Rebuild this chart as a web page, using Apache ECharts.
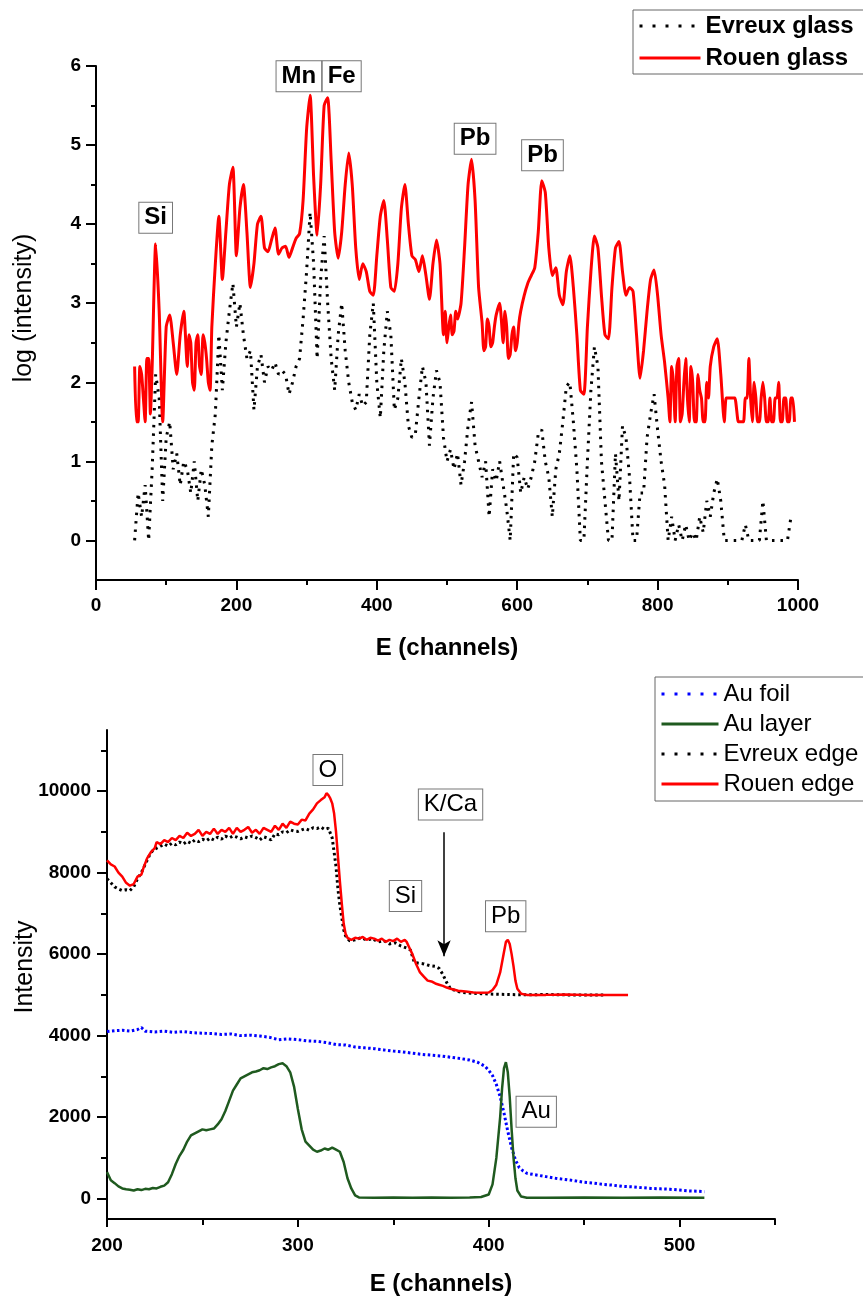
<!DOCTYPE html>
<html>
<head>
<meta charset="utf-8">
<script src="https://cdn.jsdelivr.net/npm/echarts@6/dist/echarts.min.js"></script>
<style>
  html, body { margin: 0; padding: 0; background: #fff; }
  #chart { width: 863px; height: 1297px; }
</style>
</head>
<body>
<div id="chart"></div>
<script>
// ---- top panel: log(intensity) spectra, channels 55..995 step 5
const glassE = [];
for (let e = 55; e <= 995; e += 5) glassE.push(e);

const rouenGlass = [
  2.2, 1.5, 2.1, 1.5, 2.3, 2.2, 3.75, 2.9, 1.5, 2.7,
  2.85, 2.5, 2.1, 2.6, 2.9, 2.2, 2.5, 1.9, 2.6, 2.1,
  2.5, 2.0, 2.7, 3.5, 4.1, 3.3, 3.9, 4.5, 4.72, 3.6,
  4.2, 4.5, 3.9, 3.2, 3.5, 4.0, 4.1, 3.7, 3.65, 3.8,
  3.95, 3.62, 3.7, 3.72, 3.58, 3.7, 3.82, 3.88, 4.3, 5.2,
  5.63, 4.6, 3.86, 4.5, 5.5, 5.6, 4.8, 3.9, 3.57, 3.9,
  4.5, 4.9, 4.5, 3.7, 3.3, 3.5, 3.4, 3.15, 3.1, 3.6,
  4.1, 4.3, 3.8, 3.2, 3.15, 3.5, 4.2, 4.5, 4.0, 3.6,
  3.55, 3.4, 3.6, 3.35, 3.05, 3.5, 3.8, 3.5, 2.6, 2.5,
  2.85, 2.65, 2.8, 3.0, 3.7, 4.5, 4.82, 4.3, 3.2, 2.75,
  2.45, 2.7, 2.5, 2.85, 3.0, 2.5, 2.7, 2.35, 2.7, 2.5,
  2.9, 3.1, 3.25, 3.35, 3.45, 3.9, 4.55, 4.4, 3.7, 3.35,
  3.45, 3.1, 2.98, 3.4, 3.6, 3.2, 2.6, 1.9, 1.85, 2.7,
  3.4, 3.85, 3.7, 3.1, 2.6, 2.55, 3.2, 3.7, 3.78, 3.4,
  3.1, 3.2, 3.15, 2.6, 2.05, 2.4, 2.9, 3.3, 3.42, 3.1,
  2.6, 2.25, 1.8, 2.2, 1.5, 2.3, 1.6, 2.3, 1.5, 2.0,
  1.5, 1.9, 1.5, 2.0, 2.2, 2.45, 2.55, 2.1, 1.5, 1.8,
  1.8, 1.8, 1.5, 1.5, 1.8, 2.3, 1.5, 1.8, 1.5, 2.0,
  1.5, 1.8, 1.5, 1.8, 1.5, 1.8, 1.5, 1.8, 1.5
];

// extra readings in the noisy stretches of the Rouen spectrum (half-step channels)
const rouenNoiseE = [57.5, 62.5, 67.5, 72.5, 77.5,
  132.5, 137.5, 142.5, 147.5, 152.5, 157.5, 162.5,
  497.5, 502.5, 507.5, 512.5,
  552.5, 557.5, 562.5, 567.5, 582.5, 587.5, 592.5, 597.5, 602.5,
  817.5, 822.5, 827.5, 832.5, 837.5, 842.5, 847.5, 852.5, 857.5, 862.5, 867.5, 872.5,
  897.5, 917.5, 922.5, 927.5, 932.5, 937.5, 942.5, 947.5, 952.5, 957.5, 962.5,
  967.5, 972.5, 977.5, 982.5, 987.5, 992.5];
const rouenNoise = [1.5, 2.2, 1.8, 2.3, 1.6,
  2.6, 2.0, 2.5, 2.2, 2.6, 2.3, 1.9,
  2.9, 2.7, 2.6, 2.9,
  2.4, 2.8, 2.45, 2.7, 2.9, 2.3, 2.6, 2.4, 2.75,
  1.5, 2.0, 2.2, 1.5, 2.0, 1.8, 2.2, 1.5, 2.1, 1.8, 1.5, 1.8,
  1.8, 1.5, 1.5, 1.8, 1.8, 2.0, 1.5, 1.8, 1.8, 1.5, 1.5,
  1.8, 2.0, 1.5, 1.8, 1.5, 1.8];

const evreuxGlass = [
  0.0, 0.6, 0.3, 0.7, 0.0, 0.9, 2.1, 1.8, 0.5, 1.3,
  1.5, 0.9, 1.1, 0.7, 1.0, 0.9, 0.6, 1.0, 0.5, 0.9,
  0.7, 0.3, 1.2, 1.6, 2.6, 1.9, 2.5, 2.9, 3.25, 2.7,
  3.0, 2.6, 2.3, 2.4, 1.65, 2.2, 2.35, 2.0, 2.2, 2.15,
  2.25, 2.1, 2.15, 2.1, 1.85, 2.0, 2.2, 2.3, 2.8, 3.4,
  4.15, 3.5, 2.3, 3.3, 3.85, 3.0, 2.3, 1.9, 2.6, 3.0,
  2.4, 2.0, 1.75, 1.65, 1.85, 1.7, 1.75, 2.6, 3.0, 2.0,
  1.55, 2.4, 2.9, 2.6, 1.65, 1.8, 2.3, 2.0, 1.45, 1.3,
  1.35, 1.8, 2.2, 2.0, 1.2, 1.8, 2.15, 2.0, 1.3, 1.0,
  1.15, 0.9, 1.1, 0.7, 1.0, 1.45, 1.75, 1.2, 1.0, 0.8,
  1.0, 0.3, 0.9, 0.75, 1.0, 0.7, 0.4, 0.0, 1.1, 1.05,
  0.6, 0.8, 0.65, 0.8, 1.0, 1.35, 1.4, 1.0, 0.8, 0.3,
  0.9, 1.1, 1.5, 1.95, 2.0, 1.5, 0.9, 0.0, 0.0, 1.0,
  1.9, 2.45, 2.2, 1.0, 0.5, 0.0, 0.0, 1.1, 0.5, 1.45,
  1.3, 0.8, 0.0, 0.0, 0.6, 0.6, 1.3, 1.6, 1.85, 1.4,
  1.0, 0.7, 0.0, 0.3, 0.0, 0.2, 0.0, 0.2, 0.0, 0.1,
  0.0, 0.3, 0.1, 0.5, 0.3, 0.6, 0.78, 0.5, 0.0, 0.0,
  0.0, 0.0, 0.0, 0.0, 0.2, 0.0, 0.0, 0.0, 0.0, 0.5,
  0.0, 0.0, 0.0, 0.0, 0.0, 0.0, 0.0, 0.3
];

// ---- bottom panel: intensity spectra
const rouenEdgeE = [200,202,204,206,208,210,212,214,216,218,219,221,223,225,226,228,230,232,234,236,238,240,242,244,246,248,250,252,254,256,258,260,262,264,266,268,270,272,274,276,278,280,282,284,286,288,290,292,294,296,298,300,302,304,306,308,310,312,314,315,316,317,318,319,320,321,322,323,324,325,326,328,330,332,334,336,338,340,342,344,346,348,350,352,354,356,357,358,360,362,364,366,368,370,372,374,376,378,380,384,388,392,396,400,402,404,406,408,409,410,411,412,413,414,415,417,420,430,440,450,460,473];
const rouenEdge = [8300,8200,8150,8000,7900,7750,7680,7720,7900,7950,8100,8350,8500,8600,8750,8700,8800,8750,8850,8800,8900,8850,8980,8900,8950,9050,8900,9000,8950,9080,8950,9050,9000,9100,8950,9100,9000,9050,9120,8980,9050,8950,9100,9050,9000,9150,9050,9200,9100,9250,9200,9180,9300,9280,9450,9550,9700,9780,9850,9950,9900,9820,9700,9450,9000,8400,7800,7250,6750,6500,6400,6350,6400,6380,6420,6350,6400,6380,6330,6380,6300,6350,6320,6380,6300,6350,6300,6200,6000,5750,5550,5450,5350,5330,5280,5250,5220,5180,5150,5100,5080,5060,5050,5060,5120,5250,5550,6050,6300,6350,6250,6000,5700,5350,5150,5030,5000,5000,5010,5000,5000,5000];

const evreuxEdgeE = [200,202,204,206,208,210,212,214,216,218,220,222,224,226,228,230,232,234,236,238,240,242,244,246,248,250,252,254,256,258,260,262,264,266,268,270,272,274,276,278,280,282,284,286,288,290,292,294,296,298,300,302,304,306,308,310,312,314,316,318,319,320,321,322,323,324,325,327,330,333,336,339,342,345,348,351,354,357,359,360,361,363,366,369,372,374,376,377,378,380,384,388,392,396,400,410,420,430,440,450,460];
const evreuxEdge = [7850,7750,7650,7600,7560,7580,7560,7650,7850,8000,8200,8400,8550,8600,8650,8700,8650,8720,8680,8750,8700,8770,8720,8800,8760,8820,8780,8850,8800,8870,8820,8900,8850,8900,8870,8830,8880,8850,8900,8860,8800,8880,8850,8800,8950,8930,9000,8980,9050,9020,9010,9050,9080,9040,9100,9080,9120,9060,9090,8850,8500,8150,7600,7200,6900,6600,6450,6330,6350,6400,6350,6380,6300,6330,6250,6280,6200,6150,6100,5950,5800,5780,5760,5720,5700,5650,5500,5400,5300,5150,5080,5050,5040,5030,5020,5010,5000,5010,5000,5000,5000];

const auFoilE = [200,204,208,212,216,218,220,225,230,235,240,245,250,255,260,265,270,275,280,285,290,295,300,305,310,315,320,325,330,335,340,345,350,355,360,365,370,375,380,385,390,394,398,400,402,404,406,408,410,412,414,416,418,420,425,430,435,440,445,450,455,460,465,470,475,480,485,490,495,500,505,510,513];
const auFoil = [4100,4120,4130,4110,4150,4200,4110,4090,4110,4080,4100,4070,4060,4050,4030,4040,4000,4010,3990,3960,3900,3920,3900,3870,3860,3830,3780,3770,3720,3700,3680,3650,3620,3600,3570,3540,3520,3500,3470,3440,3400,3350,3250,3150,3020,2800,2500,2100,1650,1250,950,760,680,620,580,540,500,470,440,400,380,350,330,300,290,270,250,240,230,210,190,180,170];

const auLayerE = [200,202,204,206,208,210,212,214,216,218,220,222,224,226,228,230,232,234,236,238,240,242,244,246,248,250,252,254,256,258,260,262,264,266,268,270,272,274,276,278,280,282,284,286,288,290,292,294,296,298,300,302,304,306,308,310,312,314,316,318,320,322,324,326,328,330,332,340,350,360,370,380,390,396,400,402,404,406,407,408,409,410,411,412,413,414,415,417,420,430,450,470,490,513];
const auLayer = [650,450,380,300,250,230,220,200,230,210,240,230,260,250,290,320,400,600,850,1050,1200,1400,1550,1600,1650,1700,1680,1700,1720,1820,1950,2150,2400,2650,2800,2950,3000,3050,3100,3120,3150,3200,3180,3220,3250,3300,3320,3250,3100,2750,2200,1700,1400,1300,1200,1150,1180,1230,1200,1250,1200,1150,900,500,250,80,30,20,30,20,30,20,25,40,100,350,1000,2000,2700,3200,3350,3100,2500,1700,1000,500,200,50,20,20,30,20,30,20];

// axis ticks
const topYLabels = [0, 1, 2, 3, 4, 5, 6];
const topYMinor = [0.5, 1.5, 2.5, 3.5, 4.5, 5.5];
const botYLabels = [0, 2000, 4000, 6000, 8000, 10000];
const botYMinor = [1000, 3000, 5000, 7000, 9000, 11000];
const botXLabels = [200, 300, 400, 500];
const botXMinor = [250, 350, 450, 550];

// peak labels
const topPeaks = [
    { name: 'Si', coord: [85, 4.08] },
    { name: 'Mn', coord: [289, 5.87] },
    { name: 'Fe', coord: [350, 5.87] },
    { name: 'Pb', coord: [540, 5.08] },
    { name: 'Pb', coord: [636, 4.87] }
];
const botPeaks = [
    { name: 'O', coord: [315.7, 10519] },
    { name: 'K/Ca', coord: [380, 9674] },
    { name: 'Si', coord: [356.4, 7428] },
    { name: 'Pb', coord: [408.9, 6931] },
    { name: 'Au', coord: [424.9, 2131] }
];

const FONT = "'Liberation Sans', Arial, sans-serif";

function pairs(xs, ys) {
    return xs.map((x, i) => [x, ys[i]]);
}

// merge two point lists and sort by channel
function mergeSorted(a, b) {
    return a.concat(b).sort((p, q) => p[0] - q[0]);
}

function peakMarks(list, bold) {
    return {
        symbol: 'rect',
        symbolSize: 1,
        itemStyle: { color: 'rgba(0,0,0,0)' },
        label: {
            show: true,
            position: 'inside',
            formatter: '{b}',
            color: '#000',
            fontFamily: FONT,
            fontSize: 24,
            lineHeight: 25,
            fontWeight: bold ? 'bold' : 'normal',
            backgroundColor: '#fff',
            borderColor: '#777',
            borderWidth: 1,
            padding: [3, 5, 2, 5]
        },
        data: list.map(p => ({ name: p.name, coord: p.coord }))
    };
}

const tickLabel = {
    fontFamily: FONT, fontSize: 19, fontWeight: 'bold', color: '#000',
    formatter: v => String(v)
};
const axisLine = { show: true, onZero: false, lineStyle: { color: '#000', width: 2 } };
const tickLine = { color: '#000', width: 2 };

function minorAxis(gridIndex, min, max, values, len, pos) {
    return {
        type: 'value', gridIndex, min, max, position: pos,
        axisLine: { show: false, onZero: false },
        axisLabel: { show: false },
        splitLine: { show: false },
        axisTick: { show: true, length: len, customValues: values, lineStyle: tickLine }
    };
}

const chart = echarts.init(document.getElementById('chart'));

const noDot = { color: 'rgba(0,0,0,0)', borderWidth: 0 };

const option = {
    animation: false,
    backgroundColor: '#fff',
    grid: [
        { left: 96, top: 66, width: 702, height: 514 },
        { left: 107, top: 730, width: 668, height: 490 }
    ],
    legend: [
        {
            left: 633, top: 10, orient: 'vertical',
            itemWidth: 61, itemHeight: 14, itemGap: 8,
            borderColor: '#666', borderWidth: 1, padding: [4, 40, 4, 5],
            itemStyle: noDot,
            textStyle: { fontFamily: FONT, fontSize: 24, fontWeight: 'bold', color: '#000' },
            data: [
                { name: 'Evreux glass', lineStyle: { type: [3, 10], width: 3 } },
                { name: 'Rouen glass', lineStyle: { width: 3 } }
            ]
        },
        {
            left: 655, top: 677, orient: 'vertical',
            itemWidth: 57, itemHeight: 14, itemGap: 6,
            borderColor: '#666', borderWidth: 1, padding: [5, 40, 5, 5],
            itemStyle: noDot,
            textStyle: { fontFamily: FONT, fontSize: 24, color: '#000' },
            data: [
                { name: 'Au foil', lineStyle: { type: [3, 10], width: 3 } },
                { name: 'Au layer', lineStyle: { width: 3 } },
                { name: 'Evreux edge', lineStyle: { type: [3, 10], width: 3 } },
                { name: 'Rouen edge', lineStyle: { width: 3 } }
            ]
        }
    ],
    xAxis: [
        {
            type: 'value', gridIndex: 0, min: 0, max: 1000, interval: 200,
            name: 'E (channels)', nameLocation: 'middle', nameGap: 56,
            nameTextStyle: { fontFamily: FONT, fontSize: 24, fontWeight: 'bold', color: '#000' },
            axisLine: axisLine,
            axisTick: { show: true, length: 10, lineStyle: tickLine },
            minorTick: { show: true, splitNumber: 2, length: 5, lineStyle: tickLine },
            axisLabel: Object.assign({ margin: 16 }, tickLabel),
            splitLine: { show: false }
        },
        {
            type: 'value', gridIndex: 1, min: 200, max: 550,
            name: 'E (channels)', nameLocation: 'middle', nameGap: 53,
            nameTextStyle: { fontFamily: FONT, fontSize: 24, fontWeight: 'bold', color: '#000' },
            axisLine: axisLine,
            axisTick: { show: true, length: 8, customValues: botXLabels, lineStyle: tickLine },
            axisLabel: Object.assign({ margin: 17, customValues: botXLabels }, tickLabel),
            splitLine: { show: false }
        },
        minorAxis(1, 200, 550, botXMinor, 6, 'bottom')
    ],
    yAxis: [
        {
            type: 'value', gridIndex: 0, min: -0.5, max: 6,
            axisLine: axisLine,
            axisTick: { show: true, length: 10, customValues: topYLabels, lineStyle: tickLine },
            axisLabel: Object.assign({ margin: 15, customValues: topYLabels }, tickLabel),
            splitLine: { show: false }
        },
        minorAxis(0, -0.5, 6, topYMinor, 5, 'left'),
        {
            type: 'value', gridIndex: 1, min: -500, max: 11500,
            axisLine: axisLine,
            axisTick: { show: true, length: 10, customValues: botYLabels, lineStyle: tickLine },
            axisLabel: Object.assign({ margin: 16, customValues: botYLabels }, tickLabel),
            splitLine: { show: false }
        },
        minorAxis(1, -500, 11500, botYMinor, 6, 'left')
    ],
    graphic: [
        {
            type: 'text', x: 24, y: 308, rotation: Math.PI / 2,
            style: { text: 'log (intensity)', font: '25px ' + FONT, fill: '#000', align: 'center', verticalAlign: 'middle' }
        },
        {
            type: 'text', x: 25, y: 967, rotation: Math.PI / 2,
            style: { text: 'Intensity', font: '25px ' + FONT, fill: '#000', align: 'center', verticalAlign: 'middle' }
        }
    ],
    series: [
        {
            name: 'Evreux glass', type: 'line', xAxisIndex: 0, yAxisIndex: 0,
            symbol: 'none', color: '#000',
            lineStyle: { color: '#000', width: 3, type: [2.5, 6] },
            data: pairs(glassE, evreuxGlass)
        },
        {
            name: 'Rouen glass', type: 'line', xAxisIndex: 0, yAxisIndex: 0,
            symbol: 'none', color: '#ff0000', smooth: 0.2,
            lineStyle: { color: '#ff0000', width: 3 },
            data: mergeSorted(pairs(glassE, rouenGlass), pairs(rouenNoiseE, rouenNoise)),
            markPoint: peakMarks(topPeaks, true)
        },
        {
            name: 'Au foil', type: 'line', xAxisIndex: 1, yAxisIndex: 2,
            symbol: 'none', color: '#0000ff',
            lineStyle: { color: '#0000ff', width: 3, type: [2.5, 2.5] },
            data: pairs(auFoilE, auFoil)
        },
        {
            name: 'Au layer', type: 'line', xAxisIndex: 1, yAxisIndex: 2,
            symbol: 'none', color: '#1f5a1f',
            lineStyle: { color: '#1f5a1f', width: 2.5 },
            data: pairs(auLayerE, auLayer)
        },
        {
            name: 'Evreux edge', type: 'line', xAxisIndex: 1, yAxisIndex: 2,
            symbol: 'none', color: '#000',
            lineStyle: { color: '#000', width: 3, type: [2.5, 3] },
            data: pairs(evreuxEdgeE, evreuxEdge)
        },
        {
            name: 'Rouen edge', type: 'line', xAxisIndex: 1, yAxisIndex: 2,
            symbol: 'none', color: '#ff0000',
            lineStyle: { color: '#ff0000', width: 2.5 },
            data: pairs(rouenEdgeE, rouenEdge),
            markPoint: peakMarks(botPeaks, false),
            markLine: {
                silent: true,
                symbol: ['none', 'arrow'],
                symbolSize: [10, 16],
                label: { show: false },
                lineStyle: { color: '#000', width: 1.5, type: 'solid' },
                data: [[{ coord: [376.6, 8990] }, { coord: [376.6, 5950] }]]
            }
        }
    ]
};

chart.setOption(option);
</script>
</body>
</html>
